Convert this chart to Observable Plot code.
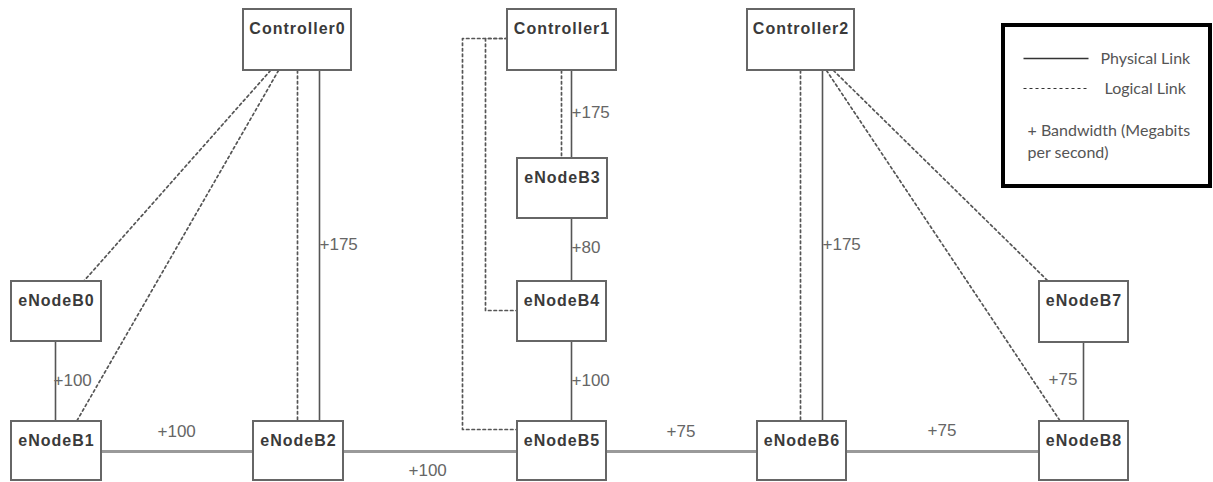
<!DOCTYPE html>
<html>
<head>
<meta charset="utf-8">
<script src="https://cdn.jsdelivr.net/npm/d3@7"></script>
<script src="https://cdn.jsdelivr.net/npm/@observablehq/plot@0.6"></script>
<style>
  html, body { margin: 0; padding: 0; background: #fff; overflow: hidden; }
</style>
</head>
<body>
<div id="chart"></div>
<script>
// ---- Nodes (diagram coordinates: left, right, top, bottom) ----
const nodeNames = ["Controller0","Controller1","Controller2","eNodeB0","eNodeB1","eNodeB2","eNodeB3","eNodeB4","eNodeB5","eNodeB6","eNodeB7","eNodeB8"];
const nodeLeft   = [243, 507, 747, 11, 11, 253, 517, 517, 517, 757, 1039, 1039];
const nodeRight  = [351, 616, 854, 101, 101, 343, 607, 606, 606, 846, 1128, 1128];
const nodeTop    = [9, 9, 9, 281, 421, 421, 158, 281, 421, 421, 281, 421];
const nodeBottom = [70, 70, 70, 341, 480, 480, 218, 341, 480, 480, 342, 480];

// ---- Physical links (solid) with bandwidth ----
const physFrom = ["eNodeB0","Controller0","Controller1","eNodeB3","eNodeB4","Controller2","eNodeB7","eNodeB1","eNodeB2","eNodeB5","eNodeB6"];
const physTo   = ["eNodeB1","eNodeB2","eNodeB3","eNodeB4","eNodeB5","eNodeB6","eNodeB8","eNodeB2","eNodeB5","eNodeB6","eNodeB8"];
const physX1 = [55, 319, 571, 571, 571, 822, 1083, 101, 343, 606, 846];
const physY1 = [341, 70, 70, 218, 341, 70, 342, 451, 451, 451, 451];
const physX2 = [55, 319, 571, 571, 571, 822, 1083, 253, 517, 757, 1039];
const physY2 = [421, 421, 158, 281, 421, 421, 421, 451, 451, 451, 451];
const bandwidth = ["+100","+175","+175","+80","+100","+175","+75","+100","+100","+75","+75"];
const bwLabelX = [53, 319, 571, 571, 571, 822, 1048, 157, 408, 666, 927];
const bwLabelY = [385, 249, 117, 252, 385, 249, 384, 436, 475, 436, 435];
const physOrient = ["v","v","v","v","v","v","v","h","h","h","h"];

// ---- Logical links (dotted polylines) ----
const logicalId = ["C0-B0","C0-B0","C0-B1","C0-B1","C0-B2","C0-B2","C1-B3","C1-B3",
  "C1-B4","C1-B4","C1-B4","C1-B4","C1-B5","C1-B5","C1-B5","C1-B5",
  "C2-B6","C2-B6","C2-B7","C2-B7","C2-B8","C2-B8"];
const logicalX = [270, 83, 278, 76, 297, 297, 561, 561,
  507, 485, 485, 517, 507, 462, 462, 517,
  800, 800, 833, 1048, 826, 1060];
const logicalY = [70, 281, 70, 421, 70, 421, 70, 158,
  38, 38, 310, 310, 38, 38, 429, 429,
  70, 421, 70, 281, 70, 421];

// ---- Legend ----
const legendLabels = ["Physical Link", "Logical Link"];
const legendNote = ["+ Bandwidth (Megabits", "per second)"];

// ---- Build tables ----
const nodes = nodeNames.map((n, i) => ({name: n, x1: nodeLeft[i], x2: nodeRight[i], y1: nodeTop[i], y2: nodeBottom[i]}));
const phys = physFrom.map((f, i) => ({from: f, to: physTo[i], x1: physX1[i], y1: physY1[i], x2: physX2[i], y2: physY2[i], bw: bandwidth[i], lx: bwLabelX[i], ly: bwLabelY[i], o: physOrient[i]}));
const logical = logicalId.map((id, i) => ({id, x: logicalX[i], y: logicalY[i]}));

const chart = Plot.plot({
  width: 1213,
  height: 482,
  margin: 0,
  x: {domain: [0, 1213], range: [0, 1213], axis: null},
  y: {domain: [0, 482], range: [0, 482], axis: null},
  style: {background: "#fff"},
  marks: [
    Plot.link(phys.filter(d => d.o === "h"), {x1: "x1", y1: "y1", x2: "x2", y2: "y2", stroke: "#9a9a9a", strokeWidth: 3}),
    Plot.link(phys.filter(d => d.o === "v"), {x1: "x1", y1: "y1", x2: "x2", y2: "y2", stroke: "#555", strokeWidth: 1.6}),
    Plot.line(logical, {x: "x", y: "y", z: "id", stroke: "#555", strokeWidth: 1.7, strokeDasharray: "2.5,3", curve: "linear"}),
    Plot.rect(nodes, {x1: "x1", x2: "x2", y1: "y1", y2: "y2", fill: "#fff", stroke: "#666", strokeWidth: 2}),
    Plot.text(nodes, {x: d => (d.x1 + d.x2) / 2, y: d => d.y1 + 24, text: "name", textAnchor: "middle", lineAnchor: "bottom", fontSize: 16, fontWeight: "bold", fontFamily: "Liberation Sans, Arial, sans-serif", fill: "#3a3a3a"}),
    Plot.text(phys, {x: "lx", y: "ly", text: "bw", textAnchor: "start", lineAnchor: "bottom", fontSize: 17, fontFamily: "Liberation Sans, Arial, sans-serif", fill: "#666"}),
    // legend box
    Plot.rect([{x1: 1003, x2: 1210, y1: 25, y2: 186}], {x1: "x1", x2: "x2", y1: "y1", y2: "y2", fill: "#fff", stroke: "#000", strokeWidth: 4}),
    Plot.link([{x1: 1023, x2: 1088, y: 58}], {x1: "x1", x2: "x2", y1: "y", y2: "y", stroke: "#333", strokeWidth: 1.5}),
    Plot.link([{x1: 1023, x2: 1088, y: 88}], {x1: "x1", x2: "x2", y1: "y", y2: "y", stroke: "#333", strokeWidth: 1.2, strokeDasharray: "3,3"}),
    Plot.text(legendLabels, {x: [1100, 1104], y: [63, 93], text: d => d, textAnchor: "start", lineAnchor: "bottom", fontSize: 16, fontFamily: "Lato, sans-serif", fill: "#555"}),
    Plot.text(legendNote, {x: [1027, 1027], y: [135, 157], text: d => d, textAnchor: "start", lineAnchor: "bottom", fontSize: 16, fontFamily: "Lato, sans-serif", fill: "#555"})
  ]
});
// widen node labels slightly, like the reference
d3.select(chart).selectAll("text")
  .filter(function() { return nodeNames.includes(this.textContent); })
  .attr("letter-spacing", "1px");
document.getElementById("chart").appendChild(chart);
</script>
</body>
</html>
